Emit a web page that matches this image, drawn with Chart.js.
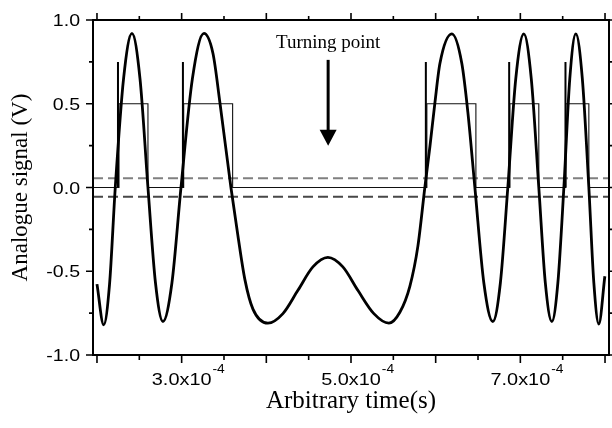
<!DOCTYPE html>
<html>
<head>
<meta charset="utf-8">
<script src="https://cdn.jsdelivr.net/npm/chart.js@4/dist/chart.umd.min.js"></script>
<style>
  html, body { margin: 0; padding: 0; background: #fff; }
  canvas { display: block; }
</style>
</head>
<body>
<canvas id="chart" width="612" height="428"></canvas>
<script>
const T = 1e-4; // all times below are in units of 1e-4 s

// analogue signal
const signalTime = [2.000, 2.079, 2.148, 2.216, 2.314, 2.413, 2.508, 2.602, 2.691, 2.779,
  2.885, 2.992, 3.127, 3.263, 3.370, 3.452, 3.582, 3.665, 3.747, 3.842,
  4.019, 4.196, 4.373, 4.550, 4.727, 4.904, 5.081, 5.270,
  5.447, 5.577, 5.695, 5.790, 5.872, 5.932, 5.991, 6.050, 6.191, 6.309,
  6.380, 6.463, 6.569, 6.675, 6.764, 6.852, 6.946, 7.041, 7.129, 7.218,
  7.295, 7.372, 7.443, 7.514, 7.584, 7.655, 7.732, 7.809, 7.868, 7.927, 7.998];
const signalVolts = [-0.577, -0.82, -0.58, 0, 0.65, 0.92, 0.65, 0, -0.57, -0.80,
  -0.57, 0, 0.65, 0.92, 0.80, 0.506, 0, -0.29, -0.55, -0.726,
  -0.81, -0.753, -0.614, -0.474, -0.417, -0.474, -0.614, -0.753,
  -0.81, -0.745, -0.59, -0.35, 0, 0.245, 0.506, 0.74, 0.917, 0.74,
  0.45, 0, -0.57, -0.80, -0.57, 0, 0.65, 0.917, 0.65, 0,
  -0.57, -0.80, -0.57, 0, 0.65, 0.917, 0.65, 0, -0.57, -0.815, -0.53];

// digital output (square pulses)
const pulseTime = [1.953, 2.26, 2.26, 2.602, 2.602, 3.024, 3.024, 3.602, 3.602, 5.896, 5.896,
  6.475, 6.475, 6.876, 6.876, 7.218, 7.218, 7.537, 7.537, 7.809, 7.809, 8.047];
const pulseLevel = [0, 0, 0.5, 0.5, 0, 0, 0.5, 0.5, 0, 0, 0.5,
  0.5, 0, 0, 0.5, 0.5, 0, 0, 0.5, 0.5, 0, 0];

// trigger marks at the rising edges
const triggerTime = [2.248, 3.015, 5.884, 6.868, 7.533];
const triggerTop = 0.75;

// comparator thresholds
const thresholdUp = 0.055;
const thresholdDown = -0.055;

// axes
const xRange = [1.953, 8.047];
const yRange = [-1, 1];
const xMajor = [2, 3, 4, 5, 6, 7, 8];
const xMinor = [2.5, 3.5, 4.5, 5.5, 6.5, 7.5];
const xLabelAt = [3, 5, 7];
const xLabelText = ['3.0x10', '5.0x10', '7.0x10'];
const xLabelExp = '-4';
const yMajor = [-1, -0.5, 0, 0.5, 1];
const yMinor = [-0.75, -0.25, 0.25, 0.75];
const yLabelText = ['-1.0', '-0.5', '0.0', '0.5', '1.0'];

// annotation
const noteText = 'Turning point';
const noteX = 4.73;
const noteY = 0.863;
const arrowFrom = 0.762, arrowHead = 0.345, arrowTip = 0.25;

const pts = (xs, ys) => xs.map((t, i) => ({ x: t * T, y: ys[i] }));

const triggerData = [];
triggerTime.forEach(t => {
  triggerData.push({ x: t * T, y: 0 }, { x: t * T, y: triggerTop }, { x: t * T, y: null });
});

const SANS = '"Liberation Sans", Arial, sans-serif';
const SERIF = '"Liberation Serif", "Times New Roman", serif';

function wideText(ctx, txt, x, y, align, sx) {
  ctx.save();
  ctx.translate(x, y);
  ctx.scale(sx, 1);
  ctx.textAlign = align;
  ctx.fillText(txt, 0, 0);
  ctx.restore();
}

const frame = {
  id: 'frame',
  afterDraw(chart) {
    const { ctx, chartArea: a, scales: { x, y } } = chart;
    ctx.save();
    ctx.strokeStyle = '#000';
    ctx.lineWidth = 1.6;
    ctx.beginPath();
    const seg = (x1, y1, x2, y2) => { ctx.moveTo(x1, y1); ctx.lineTo(x2, y2); };
    xMajor.forEach(v => {
      const p = x.getPixelForValue(v * T);
      seg(p, a.bottom, p, a.bottom + 8);
      seg(p, a.top, p, a.top - 7);
    });
    xMinor.forEach(v => {
      const p = x.getPixelForValue(v * T);
      seg(p, a.bottom, p, a.bottom + 5);
      seg(p, a.top, p, a.top - 4);
    });
    yMajor.forEach(v => {
      const p = y.getPixelForValue(v);
      seg(a.left, p, a.left - 7, p);
      seg(a.right, p, a.right + 7, p);
    });
    yMinor.forEach(v => {
      const p = y.getPixelForValue(v);
      seg(a.left, p, a.left - 4, p);
      seg(a.right, p, a.right + 4, p);
    });
    ctx.stroke();
    ctx.lineWidth = 2;
    ctx.strokeRect(a.left, a.top, a.right - a.left, a.bottom - a.top);

    // tick labels
    ctx.fillStyle = '#000';
    ctx.textBaseline = 'alphabetic';
    ctx.font = '17px ' + SANS;
    yMajor.forEach((v, i) => {
      wideText(ctx, yLabelText[i], a.left - 13, y.getPixelForValue(v) + 6, 'right', 1.15);
    });
    xLabelAt.forEach((v, i) => {
      const p = x.getPixelForValue(v * T);
      ctx.font = '17px ' + SANS;
      const w = ctx.measureText(xLabelText[i]).width * 1.17;
      wideText(ctx, xLabelText[i], p, a.bottom + 30, 'center', 1.17);
      ctx.font = '12px ' + SANS;
      wideText(ctx, xLabelExp, p + w / 2 + 1, a.bottom + 18, 'left', 1.15);
    });

    // annotation
    const ax = x.getPixelForValue(noteX * T);
    ctx.font = '19px ' + SERIF;
    ctx.textAlign = 'center';
    ctx.textBaseline = 'middle';
    ctx.fillText(noteText, ax, y.getPixelForValue(noteY));
    ctx.lineWidth = 3;
    ctx.beginPath();
    ctx.moveTo(ax, y.getPixelForValue(arrowFrom));
    ctx.lineTo(ax, y.getPixelForValue(arrowHead) + 1);
    ctx.stroke();
    ctx.beginPath();
    ctx.moveTo(ax - 8.5, y.getPixelForValue(arrowHead));
    ctx.lineTo(ax + 8.5, y.getPixelForValue(arrowHead));
    ctx.lineTo(ax, y.getPixelForValue(arrowTip));
    ctx.closePath();
    ctx.fill();
    ctx.restore();
  }
};

new Chart(document.getElementById('chart'), {
  type: 'line',
  data: {
    datasets: [
      {
        label: 'Analogue signal',
        data: pts(signalTime, signalVolts),
        borderColor: '#000',
        borderWidth: 2.8,
        cubicInterpolationMode: 'monotone',
        borderJoinStyle: 'round',
        pointRadius: 0,
        order: 0
      },
      {
        label: 'Trigger',
        data: triggerData,
        borderColor: '#000',
        borderWidth: 2,
        spanGaps: false,
        pointRadius: 0,
        order: 1
      },
      {
        label: 'Digital output',
        data: pts(pulseTime, pulseLevel),
        borderColor: '#111',
        borderWidth: 1.1,
        tension: 0,
        pointRadius: 0,
        order: 2
      },
      {
        label: 'Upper threshold',
        data: pts(xRange, [thresholdUp, thresholdUp]),
        borderColor: '#808080',
        borderWidth: 2,
        borderDash: [10, 5],
        pointRadius: 0,
        order: 3
      },
      {
        label: 'Lower threshold',
        data: pts(xRange, [thresholdDown, thresholdDown]),
        borderColor: '#474747',
        borderWidth: 2,
        borderDash: [10, 5],
        pointRadius: 0,
        order: 3
      }
    ]
  },
  options: {
    responsive: false,
    animation: false,
    devicePixelRatio: 1,
    layout: { padding: { top: 20, right: 3, left: 0, bottom: 0 } },
    plugins: { legend: { display: false }, tooltip: { enabled: false } },
    scales: {
      x: {
        type: 'linear',
        min: xRange[0] * T,
        max: xRange[1] * T,
        grid: { display: false, drawTicks: false },
        border: { display: false },
        ticks: { display: false },
        title: {
          display: true,
          text: 'Arbitrary time(s)',
          color: '#000',
          font: { family: SERIF, size: 25 },
          padding: { top: 0, bottom: 12 }
        },
        afterFit: s => { s.height = 73; }
      },
      y: {
        min: yRange[0],
        max: yRange[1],
        grid: { display: false, drawTicks: false },
        border: { display: false },
        ticks: { display: false },
        title: {
          display: true,
          text: 'Analogue signal (V)',
          color: '#000',
          font: { family: SERIF, size: 23 },
          padding: { top: 7, bottom: 0 }
        },
        afterFit: s => { s.width = 93; }
      }
    }
  },
  plugins: [frame]
});
</script>
</body>
</html>
